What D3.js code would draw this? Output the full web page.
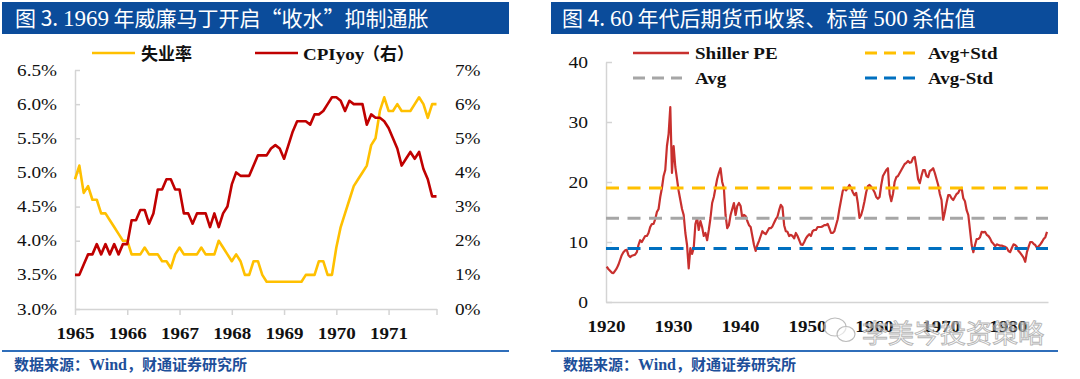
<!DOCTYPE html>
<html><head><meta charset="utf-8">
<script src="https://cdn.jsdelivr.net/npm/d3@7"></script>
<style>body{margin:0;background:#fff}svg{display:block}</style>
</head><body><svg id="c" width="1080" height="379"></svg>
<script>
// ---------- Left chart data (monthly, Jan 1965 – Dec 1971) ----------
const yearLabels = ["1965","1966","1967","1968","1969","1970","1971"];
const unemployment = [
  4.9,5.1,4.7,4.8,4.6,4.6,4.4,4.4,4.3,4.2,4.1,4.0,
  4.0,3.8,3.8,3.8,3.9,3.8,3.8,3.8,3.7,3.7,3.6,3.8,
  3.9,3.8,3.8,3.8,3.8,3.9,3.8,3.8,3.8,4.0,3.9,3.8,
  3.7,3.8,3.7,3.5,3.5,3.7,3.7,3.5,3.4,3.4,3.4,3.4,
  3.4,3.4,3.4,3.4,3.4,3.5,3.5,3.5,3.7,3.7,3.5,3.5,
  3.9,4.2,4.4,4.6,4.8,4.9,5.0,5.1,5.4,5.5,5.9,6.1,
  5.9,5.9,6.0,5.9,5.9,5.9,6.0,6.1,6.0,5.8,6.0,6.0
];
const cpiYoy = [
  1.0,1.0,1.3,1.6,1.6,1.9,1.6,1.9,1.6,1.9,1.6,1.9,
  1.9,2.6,2.6,2.9,2.9,2.5,2.8,3.5,3.5,3.8,3.8,3.5,
  3.5,2.8,2.8,2.5,2.8,2.8,2.8,2.4,2.8,2.4,2.8,3.0,
  3.65,4.0,3.9,3.9,3.9,4.2,4.5,4.5,4.5,4.7,4.8,4.7,
  4.4,4.8,5.2,5.5,5.5,5.5,5.4,5.7,5.7,5.8,6.0,6.2,
  6.2,6.1,5.8,6.1,6.0,6.0,6.0,5.4,5.7,5.6,5.6,5.5,
  5.3,5.0,4.7,4.2,4.4,4.6,4.4,4.6,4.1,3.8,3.3,3.3
];
const unempTicks = [3.0,3.5,4.0,4.5,5.0,5.5,6.0,6.5];
const cpiTicks = [0,1,2,3,4,5,6,7];

// ---------- Right chart data (quarterly Shiller PE, 1920 – 1985) ----------
const peStartYear = 1920;
const peYearTicks = [1920,1930,1940,1950,1960,1970,1980];
const shillerPE = [
  5.9,5.5,5.2,4.9,   4.8,5.2,5.6,6.2,   7.0,7.8,8.3,8.6,   8.7,7.8,7.5,7.7,
  7.8,7.9,8.3,9.5,   10.3,10.0,10.5,11.0, 11.0,11.5,12.5,13.0, 13.0,13.8,15.0,15.5,
  17.5,19.0,21.0,22.0, 26.0,28.0,32.5,21.5, 26.0,22.5,20.5,18.5, 17.0,15.5,14.5,11.5,
  9.5,5.6,9.0,8.0,   9.0,13.0,14.0,12.0, 13.5,12.5,11.0,11.5, 10.3,12.0,14.0,16.5,
  17.5,19.0,20.5,21.5, 22.3,20.0,19.0,14.5, 12.3,12.8,14.5,15.5, 16.5,14.5,16.0,16.5,
  16.0,14.0,14.5,14.3, 13.5,12.8,12.5,11.0, 9.5,8.5,9.5,10.2, 11.0,11.8,11.5,11.3,
  11.8,12.3,12.3,12.6, 13.2,13.8,14.2,15.3, 16.2,15.8,12.8,11.8, 11.7,11.0,11.2,11.0,
  10.6,11.5,11.0,10.3, 9.6,9.5,10.0,10.6, 11.0,11.3,11.0,11.8, 12.0,12.0,12.5,12.5,
  12.5,12.6,12.8,12.8, 13.0,12.3,11.5,11.5, 11.8,12.8,13.8,15.5, 17.0,18.5,19.0,18.6,
  19.0,19.5,19.0,18.3, 17.8,18.2,16.5,14.0, 14.5,15.5,16.8,18.3, 19.3,19.5,19.2,18.8,
  18.3,17.5,17.2,17.5, 19.5,21.0,21.5,22.0, 22.3,18.0,16.8,18.0, 20.0,20.8,21.0,21.5,
  22.0,22.5,23.0,23.2, 23.5,23.2,23.3,24.0, 24.2,22.5,20.5,19.8, 21.0,22.0,22.0,21.0,
  20.8,21.8,22.0,22.3, 21.5,20.5,19.5,18.0, 17.0,13.7,15.0,16.5, 17.8,17.8,17.3,17.0,
  17.5,18.0,18.2,18.8, 19.0,17.3,16.8,15.3, 14.5,12.0,9.5,8.3, 9.5,10.5,10.5,10.8,
  11.7,11.6,11.7,11.2, 11.0,10.6,10.0,9.7, 9.3,9.6,9.5,9.4, 9.4,9.3,9.2,9.0,
  8.5,8.3,9.0,9.6,   9.5,9.2,8.5,8.2,   7.8,7.4,6.7,8.3,   9.2,10.0,10.0,9.7,
  9.5,9.0,9.3,9.6,   10.0,10.5,10.8,11.7
];
const peAvgPlusStd = 19.0;
const peAvg = 13.95;
const peAvgMinusStd = 8.9;
const peTicks = [0,10,20,30,40];

// ---------- styling ----------
const svg = d3.select("#c");
const SERIF = "'Liberation Serif','Times New Roman',serif";
const CJK = "'Noto Sans CJK SC','Noto Sans',sans-serif";
const BAR = "#0B4C9B";
const AXIS = "#d4d4d4";
const YELLOW = "#FFC000", DARKRED = "#C00000", PERED = "#C8302E", GRAY = "#A6A6A6", DBLUE = "#0070C0";

svg.append("rect").attr("width",1080).attr("height",379).attr("fill","#fff");

function stretch(sel, k){
  sel.each(function(){
    const t = d3.select(this);
    const x = +(t.attr("x") || 0);
    t.attr("x", x / k).attr("transform", `scale(${k},1)`);
  });
}

function panel(x0, x1, titleX, parts){
  svg.append("rect").attr("x",x0).attr("y",2).attr("width",x1-x0).attr("height",32).attr("fill",BAR);
  const t = svg.append("text").attr("x",titleX).attr("y",26).attr("fill","#fff")
    .attr("font-size",21).attr("font-family",CJK);
  parts.forEach(p => t.append("tspan").text(p.t)
    .attr("font-family", p.serif ? SERIF : CJK)
    .attr("font-size", p.serif ? 23 : 21));
  svg.append("line").attr("x1",x0).attr("x2",x1).attr("y1",351).attr("y2",351)
    .attr("stroke","#2F6EBA").attr("stroke-width",2);
  const s = svg.append("text").attr("x",x0+12).attr("y",370).attr("fill","#1D4F9A")
    .attr("font-size",15).attr("font-weight","bold").attr("font-family",CJK);
  s.append("tspan").text("数据来源：");
  s.append("tspan").text("Wind").attr("font-family",SERIF).attr("font-size",16);
  s.append("tspan").text("，财通证券研究所");
}

panel(2, 509, 15, [{t:"图 3. "},{t:"1969",serif:true},{t:" 年威廉马丁开启“收水”抑制通胀"}]);
panel(551, 1058, 562, [{t:"图 4. "},{t:"60",serif:true},{t:" 年代后期货币收紧、标普 "},{t:"500",serif:true},{t:" 杀估值"}]);

function styleAxis(g){
  g.selectAll(".domain").attr("stroke",AXIS).attr("stroke-width",1.5);
  g.selectAll(".tick line").attr("stroke",AXIS).attr("stroke-width",1.5);
  g.selectAll("text").attr("fill","#111");
}

// ================= LEFT CHART =================
const xL = d3.scaleLinear().domain([0, unemployment.length - 1]).range([75, 436.5]);
const yL = d3.scaleLinear().domain([3, 6.5]).range([309, 70]);
const yR = d3.scaleLinear().domain([0, 7]).range([309, 70]);

const gLy = svg.append("g").attr("transform","translate(75,0)")
  .call(d3.axisLeft(yL).tickValues(unempTicks).tickFormat(d => d.toFixed(1) + "%")
    .tickSizeInner(-5).tickSizeOuter(0).tickPadding(18));
gLy.selectAll("text").attr("font-family",SERIF).attr("font-size",16);
styleAxis(gLy);
stretch(gLy.selectAll("text"), 1.2);

const gRy = svg.append("g").attr("transform","translate(437,0)")
  .call(d3.axisRight(yR).tickValues(cpiTicks).tickFormat(d => d + "%")
    .tickSize(0).tickPadding(18));
gRy.select(".domain").remove();
gRy.selectAll("text").attr("font-family",SERIF).attr("font-size",16);
styleAxis(gRy);
stretch(gRy.selectAll("text"), 1.2);

const xTickIdx = yearLabels.map((_, i) => i * 12).concat([unemployment.length - 1]);
const gLx = svg.append("g").attr("transform","translate(0,309)")
  .call(d3.axisBottom(xL).tickValues(xTickIdx)
    .tickFormat(i => (i % 12 === 0 && yearLabels[i / 12]) ? yearLabels[i / 12] : "")
    .tickSizeInner(6).tickSizeOuter(0).tickPadding(12));
gLx.selectAll("text").attr("font-family",SERIF).attr("font-size",17).attr("font-weight","bold");
styleAxis(gLx);
stretch(gLx.selectAll("text"), 1.12);

const lineU = d3.line().x((d,i) => xL(i)).y(d => yL(d));
const lineC = d3.line().x((d,i) => xL(i)).y(d => yR(d));
svg.append("path").datum(unemployment).attr("d",lineU).attr("fill","none")
  .attr("stroke",YELLOW).attr("stroke-width",2.6).attr("stroke-linejoin","round");
svg.append("path").datum(cpiYoy).attr("d",lineC).attr("fill","none")
  .attr("stroke",DARKRED).attr("stroke-width",2.6).attr("stroke-linejoin","round");

// left legend
svg.append("line").attr("x1",92).attr("x2",135).attr("y1",53).attr("y2",53).attr("stroke",YELLOW).attr("stroke-width",2.6);
svg.append("text").attr("x",141).attr("y",60).text("失业率").attr("font-family",CJK)
  .attr("font-size",17).attr("font-weight","bold").attr("fill","#111");
svg.append("line").attr("x1",255).attr("x2",298).attr("y1",53).attr("y2",53).attr("stroke",DARKRED).attr("stroke-width",2.6);
const lgC = svg.append("text").attr("x",303).attr("y",60).text("CPIyoy").attr("font-family",SERIF)
  .attr("font-size",17).attr("font-weight","bold").attr("fill","#111");
stretch(lgC, 1.12);
svg.append("text").attr("x",363).attr("y",60).text("（右）").attr("font-family",CJK)
  .attr("font-size",17).attr("font-weight","bold").attr("fill","#111");

// ================= RIGHT CHART =================
const xP = d3.scaleLinear().domain([1920, 1986]).range([606, 1048]);
const yP = d3.scaleLinear().domain([0, 40]).range([302, 62]);

const gPy = svg.append("g").attr("transform","translate(606,0)")
  .call(d3.axisLeft(yP).tickValues(peTicks).tickSizeInner(-6).tickSizeOuter(0).tickPadding(18));
gPy.selectAll("text").attr("font-family",SERIF).attr("font-size",16);
styleAxis(gPy);
stretch(gPy.selectAll("text"), 1.22);

const gPx = svg.append("g").attr("transform","translate(0,302)")
  .call(d3.axisBottom(xP).tickValues(peYearTicks).tickFormat(d => String(d))
    .tickSize(0).tickPadding(18));
gPx.selectAll("text").attr("font-family",SERIF).attr("font-size",17).attr("font-weight","bold");
styleAxis(gPx);
stretch(gPx.selectAll("text"), 1.12);

const lineP = d3.line().x((d,i) => xP(peStartYear + i * 0.25 + 0.1)).y(d => yP(d));
svg.append("path").datum(shillerPE).attr("d",lineP).attr("fill","none")
  .attr("stroke",PERED).attr("stroke-width",2.2).attr("stroke-linejoin","round");

const bands = [[peAvgPlusStd, YELLOW],[peAvg, GRAY],[peAvgMinusStd, DBLUE]];
bands.forEach(([v,c]) => {
  svg.append("line").attr("x1",xP(1920)).attr("x2",xP(1986)).attr("y1",yP(v)).attr("y2",yP(v))
    .attr("stroke",c).attr("stroke-width",3).attr("stroke-dasharray","13,8.5");
});

// right legend
function legendItem(x1, x2, y, color, dashed, label, tx){
  svg.append("line").attr("x1",x1).attr("x2",x2).attr("y1",y).attr("y2",y).attr("stroke",color)
    .attr("stroke-width", dashed ? 3 : 2.4).attr("stroke-dasharray", dashed ? "12,7" : null);
  const t = svg.append("text").attr("x",tx).attr("y",y+6.5).text(label).attr("font-family",SERIF)
    .attr("font-size",17).attr("font-weight","bold").attr("fill","#111");
  stretch(t, 1.12);
}
legendItem(633, 689, 53, PERED, false, "Shiller PE", 695);
legendItem(633, 682, 78, GRAY, true, "Avg", 695);
legendItem(865, 915, 53, YELLOW, true, "Avg+Std", 928);
legendItem(865, 915, 78, DBLUE, true, "Avg-Std", 928);

// watermark
const wm = svg.append("g").attr("opacity",0.85);
wm.append("ellipse").attr("cx",835).attr("cy",327).attr("rx",11).attr("ry",9)
  .attr("fill","rgba(255,255,255,0.6)").attr("stroke","#b0b0b0").attr("stroke-width",1.2);
wm.append("ellipse").attr("cx",846).attr("cy",334).attr("rx",9).attr("ry",7.5)
  .attr("fill","rgba(255,255,255,0.6)").attr("stroke","#b0b0b0").attr("stroke-width",1.2);
wm.append("text").attr("x",862).attr("y",343).text("李美岑投资策略")
  .attr("font-family",CJK).attr("font-size",26)
  .attr("fill","rgba(255,255,255,0.55)").attr("stroke","#a8a8a8").attr("stroke-width",0.9);
</script>
</body></html>
